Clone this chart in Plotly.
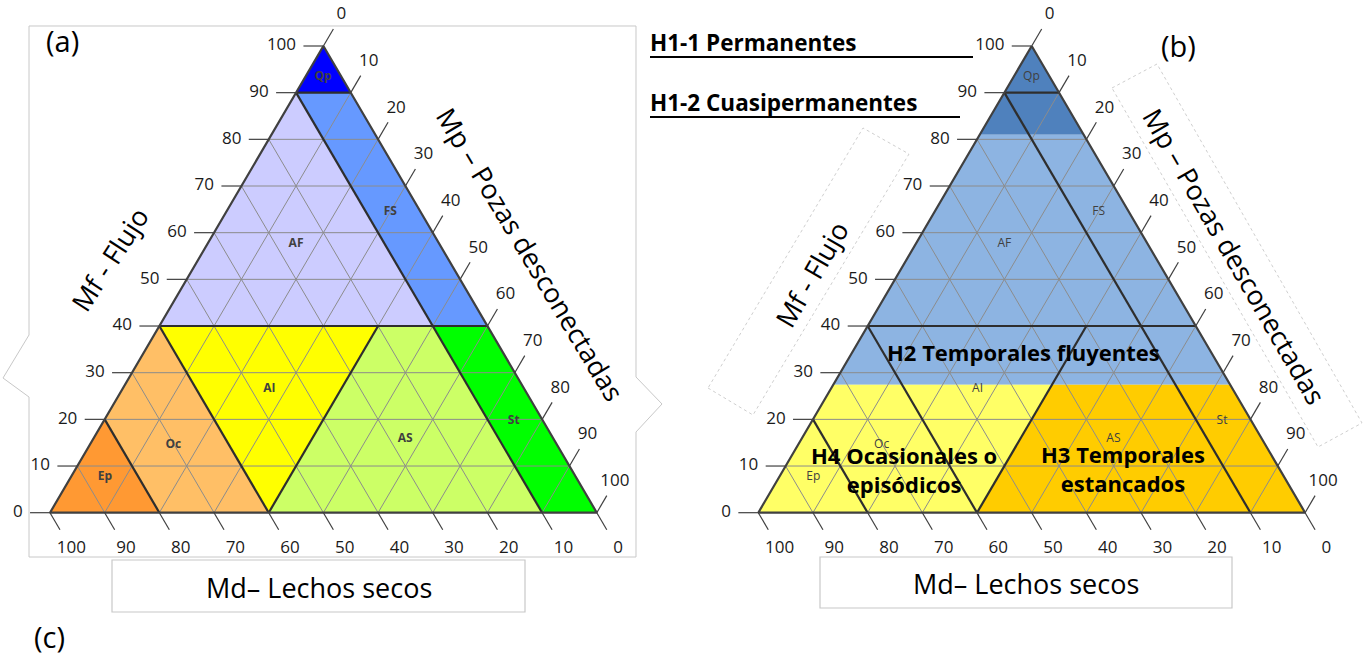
import plotly.graph_objects as go

W, H = 1370, 662
FONT = "Open Sans"

# ---------------------------------------------------------------------------
# Ternary axes: Mf (flow, top vertex), Md (dry beds, bottom-left vertex),
# Mp (disconnected pools, bottom-right vertex). Points are (Mf, Md, Mp) in %.
# ---------------------------------------------------------------------------
TICKS = [0, 10, 20, 30, 40, 50, 60, 70, 80, 90, 100]
TICK_TEXT = [str(v) for v in TICKS]
GRID = [10, 20, 30, 40, 50, 60, 70, 80, 90]

# Regime classes (diagram a)
regime_names = ["Qp", "FS", "AF", "AI", "AS", "St", "Oc", "Ep"]
regime_colors = ["#0000FF", "#6699FF", "#CCCCFF", "#FFFF00",
                 "#CCFF66", "#00FF00", "#FFBF66", "#FF9933"]
qp_poly = [(100, 0, 0), (90, 10, 0), (90, 0, 10)]
fs_poly = [(90, 0, 10), (90, 10, 0), (40, 10, 50), (40, 0, 60)]
af_poly = [(90, 10, 0), (40, 60, 0), (40, 10, 50)]
ai_poly = [(40, 60, 0), (40, 20, 40), (0, 60, 40)]
as_poly = [(40, 20, 40), (40, 10, 50), (0, 10, 90), (0, 60, 40)]
st_poly = [(40, 10, 50), (40, 0, 60), (0, 0, 100), (0, 10, 90)]
oc_poly = [(40, 60, 0), (0, 60, 40), (0, 80, 20), (20, 80, 0)]
ep_poly = [(20, 80, 0), (0, 80, 20), (0, 100, 0)]
regime_polys = [qp_poly, fs_poly, af_poly, ai_poly, as_poly, st_poly, oc_poly, ep_poly]

# where each class code is written
regime_label_pos = [(93.3, 3.4, 3.3), (64.5, 5.5, 30.0), (57.6, 26.2, 16.2),
                    (26.4, 46.7, 26.9), (15.7, 27.2, 57.1), (19.6, 5.4, 75.0),
                    (14.5, 70.2, 15.3), (7.7, 86.1, 6.2)]

# class limits drawn as heavy lines
class_limits = [((90, 10, 0), (90, 0, 10)),
                ((40, 60, 0), (40, 0, 60)),
                ((90, 10, 0), (0, 10, 90)),
                ((40, 60, 0), (0, 60, 40)),
                ((40, 20, 40), (0, 60, 40)),
                ((20, 80, 0), (0, 80, 20))]
outline = [(100, 0, 0), (0, 100, 0), (0, 0, 100), (100, 0, 0)]

# Hydrological types (diagram b)
h1_poly = [(100, 0, 0), (81, 19, 0), (81, 0, 19)]
h2_poly = [(81, 19, 0), (27.4, 72.6, 0), (27.4, 0, 72.6), (81, 0, 19)]
h4_poly = [(27.4, 72.6, 0), (0, 100, 0), (0, 60, 40), (27.4, 32.6, 40)]
h3_poly = [(27.4, 32.6, 40), (0, 60, 40), (0, 0, 100), (27.4, 0, 72.6)]
type_polys = [h1_poly, h2_poly, h4_poly, h3_poly]
type_colors = ["#4F81BD", "#8DB4E2", "#FFFF66", "#FFCC00"]


def to_xy(points):
    """(Mf, Md, Mp) -> planar coordinates of the triangle."""
    xs = [c + a / 2 for a, b, c in points]
    ys = [a for a, b, c in points]
    return xs, ys


def segments_xy(segs):
    xs, ys = [], []
    for p, q in segs:
        sx, sy = to_xy([p, q])
        xs += sx + [None]
        ys += sy + [None]
    return xs, ys


TICK_LEN = 3.65      # tick length, in % units along the grid direction
LEFT_LAB = 5.0
BOTTOM_LAB = 7.8
RIGHT_LAB = 6.6

grid_segs = []
for v in GRID:
    grid_segs.append(((v, 100 - v, 0), (v, 0, 100 - v)))
    grid_segs.append(((0, v, 100 - v), (100 - v, v, 0)))
    grid_segs.append(((0, 100 - v, v), (100 - v, 0, v)))

tick_segs = []
for v in TICKS:
    tick_segs.append(((v, 100 - v, 0), (v, 100 - v + TICK_LEN, -TICK_LEN)))
    tick_segs.append(((0, v, 100 - v), (-TICK_LEN, v, 100 - v + TICK_LEN)))
    tick_segs.append(((100 - v, 0, v), (100 - v + TICK_LEN, -TICK_LEN, v)))

left_lab = [(v, 100 - v + LEFT_LAB, -LEFT_LAB) for v in TICKS]
bottom_lab = [(-BOTTOM_LAB, v, 100 - v + BOTTOM_LAB) for v in TICKS]
right_lab = [(100 - v + RIGHT_LAB, -RIGHT_LAB, v) for v in TICKS]

fig = go.Figure()


def add_diagram(xa, ya, polys, colors, bold_codes):
    for poly, col in zip(polys, colors):
        xs, ys = to_xy(poly + [poly[0]])
        fig.add_trace(go.Scatter(x=xs, y=ys, xaxis=xa, yaxis=ya, mode="lines",
                                 fill="toself", fillcolor=col,
                                 line=dict(width=0, color=col), hoverinfo="skip"))
    gx, gy = segments_xy(grid_segs)
    fig.add_trace(go.Scatter(x=gx, y=gy, xaxis=xa, yaxis=ya, mode="lines",
                             line=dict(color="#8C8C8C", width=1), hoverinfo="skip"))
    tx, ty = segments_xy(tick_segs)
    fig.add_trace(go.Scatter(x=tx, y=ty, xaxis=xa, yaxis=ya, mode="lines",
                             line=dict(color="#404040", width=1.2), hoverinfo="skip"))
    bx, by = segments_xy(class_limits)
    fig.add_trace(go.Scatter(x=bx, y=by, xaxis=xa, yaxis=ya, mode="lines",
                             line=dict(color="#2E2E2E", width=2.2), hoverinfo="skip"))
    ox, oy = to_xy(outline)
    fig.add_trace(go.Scatter(x=ox, y=oy, xaxis=xa, yaxis=ya, mode="lines",
                             line=dict(color="#404040", width=2.2), hoverinfo="skip"))
    tick_font = dict(family=FONT, size=17, color="#1A1A1A")
    for pts, pos in ((left_lab, "middle left"), (bottom_lab, "middle center"),
                     (right_lab, "middle center")):
        lx, ly = to_xy(pts)
        fig.add_trace(go.Scatter(x=lx, y=ly, xaxis=xa, yaxis=ya, mode="text",
                                 text=TICK_TEXT, textposition=pos,
                                 textfont=tick_font, hoverinfo="skip"))
    cx, cy = to_xy(regime_label_pos)
    codes = ["<b>%s</b>" % n for n in regime_names] if bold_codes else regime_names
    fig.add_trace(go.Scatter(x=cx, y=cy, xaxis=xa, yaxis=ya, mode="text",
                             text=codes, textposition="middle center",
                             textfont=dict(family=FONT, size=12, color="#404040"),
                             hoverinfo="skip"))


add_diagram("x", "y", regime_polys, regime_colors, True)
add_diagram("x2", "y2", type_polys, type_colors, False)

# placement of the two triangles on the page (pixels)
X0_A, X0_B, X_SCALE = 50.0, 758.3, 5.468
Y0, Y_SCALE = 512.7, 4.667


def x_range(x0, p_lo, p_hi):
    return [(p_lo - x0) / X_SCALE, (p_hi - x0) / X_SCALE]


y_rng = [(Y0 - H) / Y_SCALE, Y0 / Y_SCALE]
hidden = dict(visible=False, showgrid=False, zeroline=False, fixedrange=True)
fig.update_layout(
    xaxis=dict(domain=[0, 0.5], range=x_range(X0_A, 0, W / 2), **hidden),
    yaxis=dict(domain=[0, 1], range=y_rng, **hidden),
    xaxis2=dict(domain=[0.5, 1], range=x_range(X0_B, W / 2, W), anchor="y2", **hidden),
    yaxis2=dict(domain=[0, 1], range=y_rng, anchor="x2", **hidden),
)


def px(x):
    return x / W


def py(y):
    return 1 - y / H


def path(points):
    return "M " + " L ".join("%.5f,%.5f" % (px(x), py(y)) for x, y in points) + " Z"


shapes = []
# frame of diagram (a), with the corners of the rotated title boxes
shapes.append(dict(type="path", xref="paper", yref="paper", layer="below",
                   path=path([(29, 26), (636, 26), (636, 377), (662, 404), (636, 432),
                              (636, 557), (29, 557), (29, 397), (3, 378), (29, 335)]),
                   line=dict(color="#C8C8C8", width=1)))
# rotated title boxes of diagram (b)
shapes.append(dict(type="path", xref="paper", yref="paper",
                   path=path([(708, 388), (753, 415), (909, 154), (863, 128)]),
                   line=dict(color="#CFCFCF", width=1, dash="dot")))
shapes.append(dict(type="path", xref="paper", yref="paper",
                   path=path([(1112, 88), (1157, 64), (1362, 423), (1318, 447)]),
                   line=dict(color="#CFCFCF", width=1, dash="dot")))
# boxes of the Md titles
for x0, y0, x1, y1 in ((112, 560, 525, 612), (820, 557, 1232, 608)):
    shapes.append(dict(type="rect", xref="paper", yref="paper",
                       x0=px(x0), x1=px(x1), y0=py(y1), y1=py(y0),
                       fillcolor="white", line=dict(color="#C8C8C8", width=1.2)))
# underlines of the H1 legend entries
for x0, x1, y in ((650, 973, 57), (650, 960, 117)):
    shapes.append(dict(type="line", xref="paper", yref="paper",
                       x0=px(x0), x1=px(x1), y0=py(y), y1=py(y),
                       line=dict(color="black", width=2)))

ann = []


def note(text, x, y, size, angle=0, xanchor="center", bold=False):
    ann.append(dict(text="<b>%s</b>" % text if bold else text, x=px(x), y=py(y),
                    xref="paper", yref="paper", showarrow=False, textangle=angle,
                    xanchor=xanchor, yanchor="middle",
                    font=dict(family=FONT, size=size, color="black")))


note("(a)", 62, 41, 29)
note("(b)", 1178, 45, 29)
note("(c)", 50, 636, 29)
note("Mf - Flujo", 109, 259, 27, angle=-57)
note("Mf - Flujo", 811, 274, 27, angle=-60)
note("Mp – Pozas desconectadas", 531, 254, 27, angle=59)
note("Mp – Pozas desconectadas", 1235, 256, 27, angle=60)
note("Md– Lechos secos", 319, 587, 27)
note("Md– Lechos secos", 1026, 583, 27)
note("H1-1 Permanentes", 648, 43, 22.5, xanchor="left", bold=True)
note("H1-2 Cuasipermanentes", 648, 103, 22.5, xanchor="left", bold=True)
note("H2 Temporales fluyentes", 1023, 352, 22, bold=True)
note("H3 Temporales<br>estancados", 1039, 468, 22, xanchor="left", bold=True)
note("H4 Ocasionales o<br>episódicos", 809, 469, 22, xanchor="left", bold=True)

fig.update_layout(width=W, height=H, margin=dict(l=0, r=0, t=0, b=0),
                  paper_bgcolor="white", plot_bgcolor="rgba(0,0,0,0)",
                  showlegend=False, shapes=shapes, annotations=ann)

fig.write_html("out.html")
